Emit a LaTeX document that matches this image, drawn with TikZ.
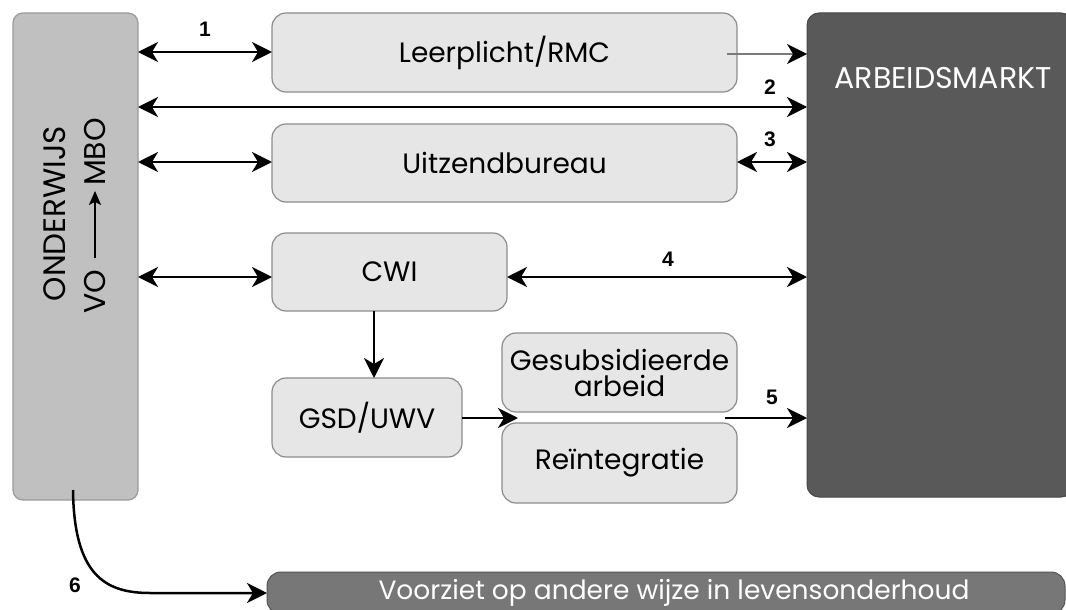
\documentclass[tikz,border=0pt]{standalone}
\usepackage{fontspec}
\setmainfont{Poppins}
\newfontfamily\numfont{Liberation Sans}
\usetikzlibrary{arrows.meta}
\definecolor{ondfill}{HTML}{C0C0C0}
\definecolor{ondline}{HTML}{9A9A9A}
\definecolor{boxfill}{HTML}{E6E6E6}
\definecolor{boxline}{HTML}{8C8C8C}
\definecolor{arbfill}{HTML}{595959}
\definecolor{barfill}{HTML}{777777}
\definecolor{thinline}{HTML}{7A7A7A}
\begin{document}
\begin{tikzpicture}[x=1pt,y=-1pt,
  every node/.style={inner sep=0pt, outer sep=0pt},
  lbox/.style={draw=boxline, fill=boxfill, line width=1.2pt, rounded corners=14pt,
    align=center, font=\fontsize{28}{26}\selectfont},
  ondbox/.style={draw=ondline, fill=ondfill, line width=1.2pt, rounded corners=10pt},
  arbbox/.style={draw=arbfill!80!black, fill=arbfill, line width=1pt, rounded corners=12pt},
  barbox/.style={draw=barfill!70!black, fill=barfill, line width=1pt, rounded corners=14pt,
    text=white, font=\fontsize{26.5}{28}\selectfont},
  wtext/.style={text=white, font=\fontsize{30}{31}\selectfont},
  vtext/.style={rotate=90, font=\fontsize{30}{31}\selectfont},
  numlbl/.style={font=\numfont\bfseries\fontsize{21}{22}\selectfont},
  tip/.tip={Stealth[length=20pt,width=20pt,inset=6pt]},
  arr/.style={line width=2.5pt, -tip},
  dbl/.style={line width=2.5pt, tip-tip},
  thinarr/.style={line width=1.6pt, draw=thinline, -{Stealth[length=20pt,width=20pt,inset=6pt,color=black]}}
]
\useasboundingbox (0,0) rectangle (1066,610);
\clip (0,0) rectangle (1066,610);

% boxes
\node[ondbox, minimum width=125pt, minimum height=487pt] (ond) at (75.5,256.5) {};
\node[arbbox, minimum width=266pt, minimum height=484pt] (arb) at (940,255) {};
\node[lbox, minimum width=465pt, minimum height=79pt] (leer) at (504.5,52.5) {Leerplicht/RMC};
\node[lbox, minimum width=465pt, minimum height=78pt] (uitz) at (504.5,163) {Uitzendbureau};
\node[lbox, minimum width=235pt, minimum height=78pt] (cwi) at (389.5,272) {CWI};
\node[lbox, minimum width=190pt, minimum height=79pt] (gsd) at (367,417.5) {GSD/UWV};
\node[lbox, minimum width=235pt, minimum height=79pt] (gesub) at (619.5,372.5) {Gesubsidieerde\\arbeid};
\node[lbox, minimum width=235pt, minimum height=80pt] (reint) at (619.5,463) {Reïntegratie};
\node[barbox, minimum width=798pt, minimum height=42pt] (bar) at (666,593) {\hspace*{16pt}Voorziet op andere wijze in levensonderhoud};

% texts
\node[wtext] (arbl) at (943,78) {ARBEIDSMARKT};
\node[vtext, font=\fontsize{31}{32}\selectfont] (ondl) at (55,213.5) {ONDERWIJS};
\node[vtext] (vo) at (95,291.5) {VO};
\node[vtext] (mbo) at (95,152) {MBO};
\draw[line width=2pt, -{Stealth[length=14pt,width=12pt,inset=3pt]}, shorten <=12pt, shorten >=5pt] (vo.east) -- (mbo.west);

% levels
\coordinate (y1) at (0,52);
\coordinate (y1b) at (727,54);
\coordinate (y2) at (0,107);
\coordinate (y3) at (0,162);
\coordinate (y4) at (0,277);
\coordinate (gap) at (518,418);
\coordinate (s5) at (725,418);
\coordinate (s6) at (73,490);

% connectors
\draw[dbl] (ond.east |- y1) -- (leer.west |- y1);
\draw[thinarr] (y1b) -- (arb.west |- y1b);
\draw[dbl] (ond.east |- y2) -- (arb.west |- y2);
\draw[dbl] (ond.east |- y3) -- (uitz.west |- y3);
\draw[dbl] (uitz.east |- y3) -- (arb.west |- y3);
\draw[dbl] (ond.east |- y4) -- (cwi.west |- y4);
\draw[dbl] (cwi.east |- y4) -- (arb.west |- y4);
\draw[arr] (cwi.south -| 374,0) -- (gsd.north -| 374,0);
\draw[arr] (gsd.east |- gap) -- (gap);
\draw[arr] (s5) -- (arb.west |- s5);
\draw[arr] (s6) .. controls (74,575) and (105,593) .. (150,593) -- (bar.west);

% labels
\node[numlbl] (n1) at (205,29) {1};
\node[numlbl] (n2) at (770,87) {2};
\node[numlbl] (n3) at (770,139) {3};
\node[numlbl] (n4) at (668,259) {4};
\node[numlbl] (n5) at (772,397) {5};
\node[numlbl] (n6) at (75,585) {6};
\end{tikzpicture}
\end{document}
